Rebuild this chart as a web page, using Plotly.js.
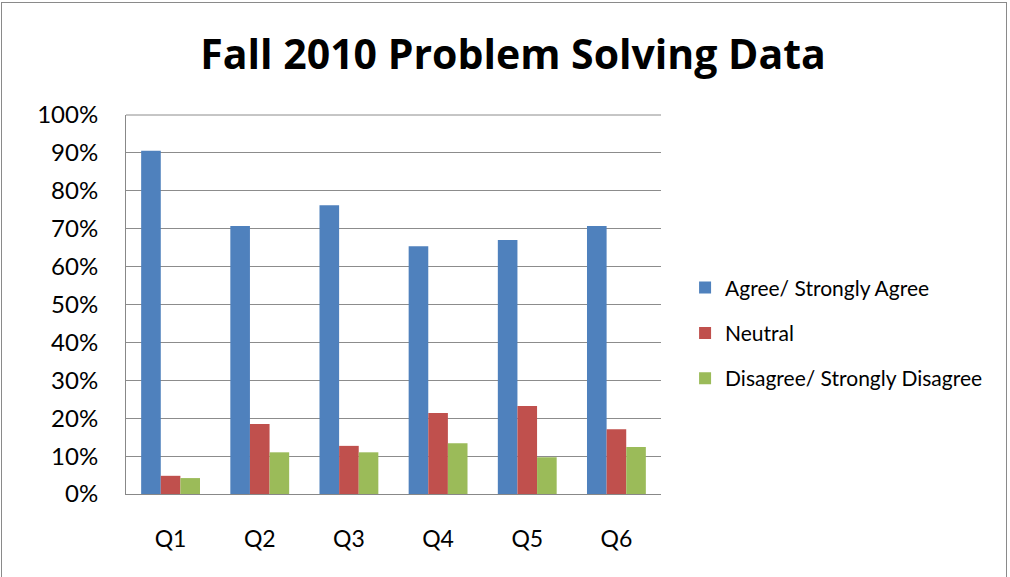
<!DOCTYPE html>
<html>
<head>
<meta charset="utf-8">
<script src="https://cdn.plot.ly/plotly-3.0.1.min.js"></script>
<style>
html,body{margin:0;padding:0;background:#fff;}
#frame{position:absolute;left:1px;top:2px;width:1006px;height:580px;border:1px solid #8a8a8a;box-sizing:border-box;}
#chart{position:absolute;left:0;top:0;width:1010px;height:577px;}
</style>
</head>
<body>
<div id="frame"></div>
<div id="chart"></div>
<script>
const categories = ["Q1","Q2","Q3","Q4","Q5","Q6"];
const agree = [0.906, 0.707, 0.762, 0.654, 0.670, 0.707];
const neutral = [0.048, 0.185, 0.127, 0.214, 0.232, 0.171];
const disagree = [0.042, 0.110, 0.110, 0.134, 0.097, 0.124];
const seriesNames = ["Agree/ Strongly Agree","Neutral","Disagree/ Strongly Disagree"];
const colors = ["#4F81BD","#C0504D","#9BBB59"];
const yTickVals = [0,0.1,0.2,0.3,0.4,0.5,0.6,0.7,0.8,0.9,1.0];
const yTickText = ["0%","10%","20%","30%","40%","50%","60%","70%","80%","90%","100%"];

const seriesValues = [agree, neutral, disagree];
const traces = seriesValues.map((vals, i) => ({
  type: "bar",
  x: categories,
  y: vals,
  name: seriesNames[i],
  legendgroup: "g" + i,
  marker: {color: colors[i], line: {width: 0}},
  hoverinfo: "skip"
}));

const layout = {
  width: 1010, height: 577,
  paper_bgcolor: "rgba(0,0,0,0)",
  plot_bgcolor: "rgba(0,0,0,0)",
  margin: {l: 126, r: 349, t: 115, b: 83, pad: 0},
  font: {family: "Lato, 'Open Sans', sans-serif", size: 22, color: "#000"},
  title: {
    text: "<b>Fall 2010 Problem Solving Data</b>",
    font: {family: "'Open Sans', Lato, sans-serif", size: 41, color: "#000"},
    x: 0.508, xanchor: "center", y: 0.905, yanchor: "middle"
  },
  barmode: "group",
  bargap: 0.34,
  bargroupgap: 0,
  showlegend: true,
  legend: {
    x: 1.045, xanchor: "left", y: 0.425, yanchor: "middle",
    font: {family: "Lato, 'Open Sans', sans-serif", size: 21, color: "#000"},
    tracegroupgap: 15, itemwidth: 30, bgcolor: "rgba(0,0,0,0)",
    traceorder: "grouped"
  },
  xaxis: {
    type: "category",
    showgrid: false, zeroline: false,
    showline: true, linecolor: "#888888", linewidth: 1,
    ticks: "", ticklabelstandoff: 24,
    tickfont: {size: 23}
  },
  yaxis: {
    range: [0, 1],
    tickvals: yTickVals, ticktext: yTickText,
    showgrid: true, gridcolor: "#8c8c8c", gridwidth: 1,
    zeroline: false,
    showline: true, linecolor: "#888888", linewidth: 1,
    ticks: "", ticklabelstandoff: 22,
    tickfont: {size: 24}
  },
  shapes: [{type: "line", xref: "paper", yref: "paper", x0: 0, x1: 1, y0: 1, y1: 1, line: {color: "#8c8c8c", width: 1}}]
};

Plotly.newPlot("chart", traces, layout, {displayModeBar: false, staticPlot: true});
</script>
</body>
</html>
